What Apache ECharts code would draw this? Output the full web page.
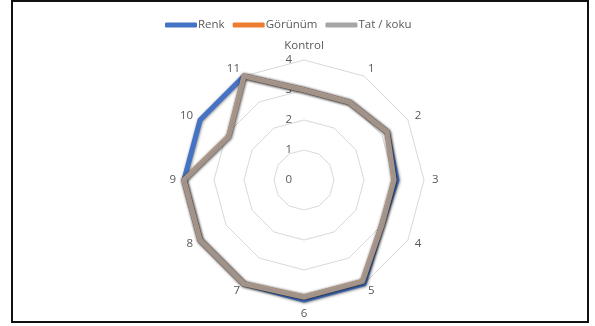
<!DOCTYPE html>
<html>
<head>
<meta charset="utf-8">
<script src="https://cdn.jsdelivr.net/npm/echarts@6/dist/echarts.min.js"></script>
<style>
  html, body { margin: 0; padding: 0; background: #fff; }
  #chart { width: 595px; height: 326px; }
</style>
</head>
<body>
<div id="chart"></div>
<script>
// Radar axes (clockwise from the top)
const categories = ['Kontrol', '1', '2', '3', '4', '5', '6', '7', '8', '9', '10', '11'];
const ticks = [0, 1, 2, 3, 4];

// Scores per sample
const renk    = [3.0, 3.0, 3.2, 3.1, 3.0, 4.0, 4.0, 4.0, 4.0, 4.0, 4.0, 4.0];
const gorunum = [3.0, 3.0, 3.2, 3.0, 3.0, 3.9, 3.9, 4.0, 4.0, 4.0, 2.9, 4.0];
const tatKoku = [3.0, 3.0, 3.2, 3.0, 3.0, 3.9, 3.9, 4.0, 4.0, 4.0, 2.9, 4.0];

const seriesNames = ['Renk', 'Görünüm', 'Tat / koku'];
const seriesColors = ['#4472C4', '#ED7D31', '#A5A5A5'];
const lineOpacity = [1, 1, 0.8];
const seriesValues = [renk, gorunum, tatKoku];

const center = [304, 180];
const radius = 120;
const textColor = '#595959';
const font = 'Open Sans';

// ECharts lays radar indicators out counter-clockwise; keep the first one
// at the top and reverse the rest so the axes run clockwise.
function clockwise(arr) {
  return [arr[0]].concat(arr.slice(1).reverse());
}

const chart = echarts.init(document.getElementById('chart'), null, { renderer: 'canvas' });

chart.setOption({
  animation: false,
  backgroundColor: '#fff',
  textStyle: { fontFamily: font },
  graphic: [{
    type: 'rect',
    shape: { x: 12, y: 1, width: 576, height: 321 },
    style: { fill: 'none', stroke: '#111', lineWidth: 2 },
    z: 100
  }],
  legend: {
    top: 14,
    left: 160,
    itemWidth: 32,
    itemHeight: 5,
    itemGap: 8,
    icon: 'roundRect',
    textStyle: { color: textColor, fontSize: 11.5, fontFamily: font, padding: [0, 0, 0, -4] },
    data: seriesNames
  },
  radar: {
    center: center,
    radius: radius,
    startAngle: 90,
    shape: 'polygon',
    splitNumber: ticks.length - 1,
    nameGap: 8,
    axisName: { color: textColor, fontSize: 11.5, fontFamily: font },
    axisLine: { show: false },
    axisTick: { show: false },
    axisLabel: { show: false },
    splitLine: { lineStyle: { color: '#d9d9d9', width: 1 } },
    splitArea: { show: false },
    indicator: clockwise(categories).map(function (c) {
      return { name: c, min: ticks[0], max: ticks[ticks.length - 1] };
    })
  },
  // Tick values drawn along the top axis
  polar: { center: center, radius: radius },
  angleAxis: { show: false, startAngle: 90, min: 0, max: 360 },
  radiusAxis: {
    min: ticks[0],
    max: ticks[ticks.length - 1],
    interval: 1,
    axisLine: { show: false },
    axisTick: { show: false },
    splitLine: { show: false },
    axisLabel: {
      color: textColor, fontSize: 11.5, fontFamily: font,
      margin: 12,
      padding: [4, 0, 0, 0],
      formatter: function (v) { return ticks.indexOf(v) >= 0 ? String(v) : ''; }
    }
  },
  series: [{
    type: 'radar',
    symbol: 'none',
    data: seriesValues.map(function (vals, i) {
      return {
        name: seriesNames[i],
        value: clockwise(vals),
        itemStyle: { color: seriesColors[i] },
        lineStyle: {
          color: seriesColors[i],
          width: 5,
          opacity: lineOpacity[i],
          shadowColor: 'rgba(0,0,0,0.55)',
          shadowBlur: 3,
          shadowOffsetX: 0.5,
          shadowOffsetY: 0.5
        }
      };
    })
  }]
});
</script>
</body>
</html>
